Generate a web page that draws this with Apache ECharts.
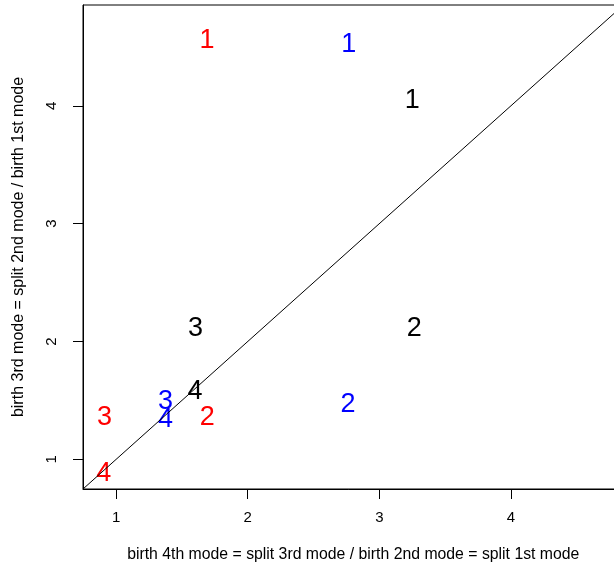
<!DOCTYPE html>
<html>
<head>
<meta charset="utf-8">
<script src="https://cdn.jsdelivr.net/npm/echarts@6/dist/echarts.min.js"></script>
<style>
  html, body { margin: 0; padding: 0; background: #fff; }
  #chart { width: 614px; height: 569px; }
</style>
</head>
<body>
<div id="chart"></div>
<script>
// Mode labels drawn at each point
var modeLabels = ['1', '2', '3', '4'];

// x: birth 4th mode = split 3rd mode / birth 2nd mode = split 1st mode
// y: birth 3rd mode = split 2nd mode / birth 1st mode
var blackX = [3.250, 3.265, 1.603, 1.600];
var blackY = [4.065, 2.125, 2.125, 1.591];

var redX = [1.690, 1.693, 0.911, 0.906];
var redY = [4.574, 1.373, 1.373, 0.896];

var blueX = [2.768, 2.763, 1.375, 1.375];
var blueY = [4.536, 1.486, 1.508, 1.353];

// Shared axis limits
var axisMin = 0.748;
var axisMax = 4.856;
var tickValues = [1, 2, 3, 4];

var xTitle = 'birth 4th mode = split 3rd mode / birth 2nd mode = split 1st mode';
var yTitle = 'birth 3rd mode = split 2nd mode / birth 1st mode';

var font = 'Liberation Sans, Arial, sans-serif';

function pts(xs, ys) {
  return xs.map(function (x, i) { return { value: [x, ys[i]], name: modeLabels[i] }; });
}

function textSeries(xs, ys, color) {
  return {
    type: 'scatter',
    symbolSize: 0,
    data: pts(xs, ys),
    silent: true,
    itemStyle: { opacity: 1, color: color },
    emphasis: { disabled: true },
    label: {
      show: true,
      position: 'inside',
      offset: [0, 2],
      formatter: function (p) { return p.name; },
      color: color,
      opacity: 1,
      fontFamily: font,
      fontSize: 27,
      align: 'center',
      verticalAlign: 'middle'
    }
  };
}

// Only the whole-number ticks get a label; the axis ends stay unlabelled
function tickText(v) {
  return tickValues.indexOf(v) >= 0 ? String(v) : '';
}

var chart = echarts.init(document.getElementById('chart'), null, { renderer: 'canvas' });
chart.setOption({
  animation: false,
  backgroundColor: '#ffffff',
  grid: {
    left: 83, top: 5, width: 540.5, height: 484,
    outerBoundsMode: 'none',
    containLabel: false,
    show: true, borderColor: '#000', borderWidth: 1, backgroundColor: 'transparent'
  },
  xAxis: {
    type: 'value', min: axisMin, max: axisMax,
    name: xTitle, nameLocation: 'middle', nameGap: 58,
    nameTextStyle: { fontFamily: font, fontSize: 15.8, color: '#000' },
    axisLine: { show: true, onZero: false, lineStyle: { color: '#000', width: 1 } },
    axisTick: { show: true, inside: false, length: 10, lineStyle: { color: '#000' }, customValues: tickValues },
    axisLabel: {
      show: true, margin: 21, color: '#000', fontFamily: font, fontSize: 15,
      showMinLabel: false, showMaxLabel: false, hideOverlap: false,
      formatter: tickText
    },
    splitLine: { show: false }
  },
  yAxis: {
    type: 'value', min: axisMin, max: axisMax,
    name: yTitle, nameLocation: 'middle', nameGap: 56,
    nameTextStyle: { fontFamily: font, fontSize: 16, color: '#000' },
    axisLine: { show: true, onZero: false, lineStyle: { color: '#000', width: 1 } },
    axisTick: { show: true, inside: false, length: 10, lineStyle: { color: '#000' }, customValues: tickValues },
    axisLabel: {
      show: true, rotate: 90, margin: 24, color: '#000', fontFamily: font, fontSize: 15,
      showMinLabel: false, showMaxLabel: false, hideOverlap: false,
      formatter: tickText
    },
    splitLine: { show: false }
  },
  series: [
    {
      // identity reference line y = x
      type: 'line',
      data: [[axisMin, axisMin], [axisMax, axisMax]],
      symbol: 'none',
      silent: true,
      clip: true,
      lineStyle: { color: '#000', width: 1 }
    },
    textSeries(blackX, blackY, '#000000'),
    textSeries(redX, redY, '#FF0000'),
    textSeries(blueX, blueY, '#0000FF')
  ]
});
</script>
</body>
</html>
